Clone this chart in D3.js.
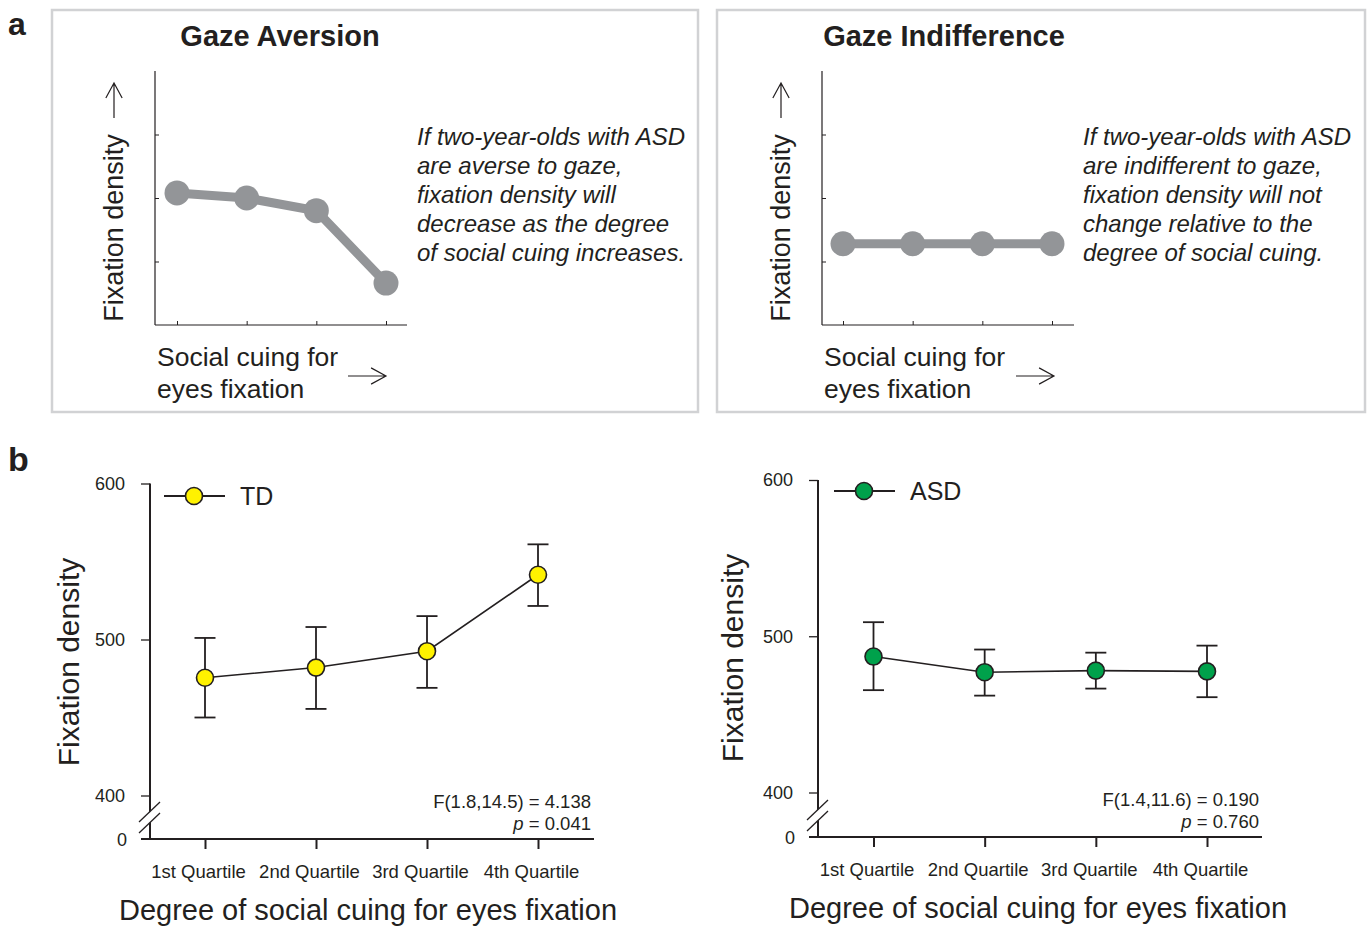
<!DOCTYPE html>
<html>
<head>
<meta charset="utf-8">
<script src="https://cdn.jsdelivr.net/npm/d3@7"></script>
<style>
  body { margin: 0; background: #fff; }
  svg text { font-family: "Liberation Sans", Arial, Helvetica, sans-serif; fill: #231f20; }
</style>
</head>
<body>
<div id="chart"></div>
<script>
// ---------------------------------------------------------------------
// data

const quartiles = ["1st Quartile", "2nd Quartile", "3rd Quartile", "4th Quartile"];
const yTicks = [400, 500, 600];

// panel b, TD
const tdMean  = [475.5, 482, 492.5, 541.5];
const tdUpper = [501, 508, 515, 561];
const tdLower = [450, 455.5, 469, 521.5];

// panel b, ASD
const asdMean  = [487, 477, 478, 477.5];
const asdUpper = [509, 491.5, 489.5, 494];
const asdLower = [465.5, 462, 466.5, 461];

// panel a, schematic predictions (arbitrary units, 0..4)
const aversion     = [2.08, 2.0, 1.8, 0.66];
const indifference = [1.28, 1.28, 1.28, 1.28];

const aversionText = ["If two-year-olds with ASD", "are averse to gaze,",
  "fixation density will", "decrease as the degree", "of social cuing increases."];
const indifferenceText = ["If two-year-olds with ASD", "are indifferent to gaze,",
  "fixation density will not", "change relative to the", "degree of social cuing."];

// ---------------------------------------------------------------------

const svg = d3.select("#chart").append("svg")
    .attr("width", 1371)
    .attr("height", 930);

const ink = "#231f20";
const fontFam = "'Liberation Sans', Arial, sans-serif";

svg.append("text").attr("x", 8).attr("y", 35)
    .style("font-size", "32px").style("font-weight", "bold").text("a");
svg.append("text").attr("x", 8).attr("y", 471)
    .style("font-size", "34px").style("font-weight", "bold").text("b");

function arrow(g, x1, y1, x2, y2) {
  // open arrow head like the → glyph
  let ang = Math.atan2(y2 - y1, x2 - x1);
  let len = 17, spread = 0.5;
  let p = d3.path();
  p.moveTo(x1, y1); p.lineTo(x2, y2);
  p.moveTo(x2 - len * Math.cos(ang - spread), y2 - len * Math.sin(ang - spread));
  p.lineTo(x2, y2);
  p.lineTo(x2 - len * Math.cos(ang + spread), y2 - len * Math.sin(ang + spread));
  g.append("path").attr("d", p.toString())
    .attr("fill", "none").attr("stroke", ink).attr("stroke-width", 1.2);
}

// schematic panel (a)
function drawConcept(cfg) {
  let g = svg.append("g");
  g.append("rect")
    .attr("x", cfg.box[0]).attr("y", cfg.box[1])
    .attr("width", cfg.box[2]).attr("height", cfg.box[3])
    .attr("fill", "none").attr("stroke", "#d1d2d4").attr("stroke-width", 2.5);

  g.append("text").attr("x", cfg.titleX).attr("y", 46)
    .attr("text-anchor", "middle")
    .style("font-size", "29px").style("font-weight", "bold")
    .text(cfg.title);

  let x = d3.scaleLinear().domain([1, 4]).range(cfg.xRange);
  let y = d3.scaleLinear().domain([0, 4]).range([325, 71]);

  let ax = cfg.axisX;
  g.append("g").attr("transform", "translate(" + ax + ",0)")
    .call(d3.axisLeft(y).tickValues([1, 2, 3]).tickSize(-4).tickFormat(""))
    .call(s => s.select(".domain").remove())
    .selectAll("line").attr("stroke", ink);
  g.append("g").attr("transform", "translate(0,325)")
    .call(d3.axisBottom(x).tickValues([1, 2, 3, 4]).tickSize(-4).tickFormat(""))
    .call(s => s.select(".domain").remove())
    .selectAll("line").attr("stroke", ink);
  g.append("line").attr("x1", ax).attr("x2", ax).attr("y1", 71).attr("y2", 325)
    .attr("stroke", ink).attr("stroke-width", 1.2);
  g.append("line").attr("x1", ax).attr("x2", cfg.axisEnd).attr("y1", 325).attr("y2", 325)
    .attr("stroke", ink).attr("stroke-width", 1.2);

  let line = d3.line().x((d, i) => x(i + 1)).y(d => y(d));
  g.append("path").attr("d", line(cfg.values))
    .attr("fill", "none").attr("stroke", "#939598").attr("stroke-width", 9);
  g.selectAll("circle.pt").data(cfg.values).enter().append("circle")
    .attr("cx", (d, i) => x(i + 1)).attr("cy", d => y(d)).attr("r", 12.5)
    .attr("fill", "#939598");

  // axis titles with arrows
  g.append("text")
    .attr("transform", "translate(" + (cfg.yLabelX) + ",228) rotate(-90)")
    .attr("text-anchor", "middle")
    .style("font-size", "27px")
    .text("Fixation density");
  arrow(g, cfg.yLabelX - 9, 118, cfg.yLabelX - 9, 83);

  g.append("text").attr("x", ax + 2).attr("y", 366)
    .style("font-size", "26.5px").text("Social cuing for");
  g.append("text").attr("x", ax + 2).attr("y", 398)
    .style("font-size", "26.5px").text("eyes fixation");
  arrow(g, cfg.arrowX, 376, cfg.arrowX + 38, 376);

  g.append("g").selectAll("text").data(cfg.text).enter().append("text")
    .attr("x", cfg.textX).attr("y", (d, i) => 145 + i * 29)
    .style("font-size", "24px").style("font-style", "italic")
    .text(d => d);
}

drawConcept({
  box: [52, 10, 646, 402], title: "Gaze Aversion", titleX: 280,
  axisX: 155, axisEnd: 407, xRange: [177, 386], values: aversion,
  yLabelX: 123, arrowX: 348, textX: 417, text: aversionText
});
drawConcept({
  box: [717, 10, 648, 402], title: "Gaze Indifference", titleX: 944,
  axisX: 822, axisEnd: 1074, xRange: [843, 1052], values: indifference,
  yLabelX: 790, arrowX: 1016, textX: 1083, text: indifferenceText
});

// result panel (b)
function drawResult(cfg) {
  let g = svg.append("g");
  let x = d3.scalePoint().domain(quartiles).range(cfg.xRange);
  let y = d3.scaleLinear().domain([400, 600]).range([cfg.y400, cfg.y600]);
  let ax = cfg.axisX, base = cfg.baseY;

  // y axis with break
  g.append("g").attr("transform", "translate(" + ax + ",0)")
    .call(d3.axisLeft(y).tickValues(yTicks).tickSize(9).tickPadding(16))
    .call(s => s.select(".domain").remove())
    .call(s => s.selectAll("line").attr("stroke", ink).attr("stroke-width", 1.3))
    .call(s => s.selectAll("text").style("font-size", "18px").attr("fill", ink)
      .style("font-family", fontFam));
  g.append("line").attr("x1", ax).attr("x2", ax).attr("y1", cfg.y600).attr("y2", base)
    .attr("stroke", ink).attr("stroke-width", 2);
  let bx0 = ax - 11, bx1 = ax + 10;
  g.append("polygon")
    .attr("points", [[bx0, base - 17], [bx1, base - 37], [bx1, base - 26], [bx0, base - 6]].join(" "))
    .attr("fill", "#fff");
  g.append("line").attr("x1", bx0).attr("y1", base - 17).attr("x2", bx1).attr("y2", base - 37)
    .attr("stroke", ink).attr("stroke-width", 1.3);
  g.append("line").attr("x1", bx0).attr("y1", base - 6).attr("x2", bx1).attr("y2", base - 26)
    .attr("stroke", ink).attr("stroke-width", 1.3);
  g.append("text").attr("x", ax - 23).attr("y", base + 7)
    .attr("text-anchor", "end").style("font-size", "18px").text("0");

  // x axis
  g.append("line").attr("x1", ax - 9).attr("x2", cfg.axisEnd).attr("y1", base).attr("y2", base)
    .attr("stroke", ink).attr("stroke-width", 2);
  g.append("g").attr("transform", "translate(0," + base + ")")
    .call(d3.axisBottom(x).tickSize(10).tickPadding(16))
    .call(s => s.select(".domain").remove())
    .call(s => s.selectAll("line").attr("stroke", ink).attr("stroke-width", 2))
    .call(s => s.selectAll("text").style("font-size", "18.5px").attr("fill", ink)
      .attr("dx", -7).style("font-family", fontFam));

  // axis titles
  g.append("text").attr("x", cfg.xTitleX).attr("y", base + 81)
    .attr("text-anchor", "middle").style("font-size", "29px")
    .text("Degree of social cuing for eyes fixation");
  g.append("text")
    .attr("transform", "translate(" + cfg.yTitleX + "," + cfg.yTitleY + ") rotate(-90)")
    .attr("text-anchor", "middle").style("font-size", "30px")
    .text("Fixation density");

  // error bars
  let cap = 10.5;
  cfg.mean.forEach((m, i) => {
    let cx = x(quartiles[i]);
    let eb = g.append("g").attr("stroke", ink).attr("stroke-width", 1.8);
    eb.append("line").attr("x1", cx).attr("x2", cx)
      .attr("y1", y(cfg.upper[i])).attr("y2", y(cfg.lower[i]));
    eb.append("line").attr("x1", cx - cap).attr("x2", cx + cap)
      .attr("y1", y(cfg.upper[i])).attr("y2", y(cfg.upper[i]));
    eb.append("line").attr("x1", cx - cap).attr("x2", cx + cap)
      .attr("y1", y(cfg.lower[i])).attr("y2", y(cfg.lower[i]));
  });

  let line = d3.line().x((d, i) => x(quartiles[i])).y(d => y(d));
  g.append("path").attr("d", line(cfg.mean))
    .attr("fill", "none").attr("stroke", ink).attr("stroke-width", 1.6);
  g.selectAll("circle.m").data(cfg.mean).enter().append("circle")
    .attr("cx", (d, i) => x(quartiles[i])).attr("cy", d => y(d)).attr("r", 8.5)
    .attr("fill", cfg.color).attr("stroke", ink).attr("stroke-width", 1.6);

  // legend
  let lg = cfg.legend;
  g.append("line").attr("x1", lg[0]).attr("x2", lg[0] + 61).attr("y1", lg[1]).attr("y2", lg[1])
    .attr("stroke", ink).attr("stroke-width", 1.8);
  g.append("circle").attr("cx", lg[0] + 30).attr("cy", lg[1]).attr("r", 8.5)
    .attr("fill", cfg.color).attr("stroke", ink).attr("stroke-width", 1.6);
  g.append("text").attr("x", lg[0] + 76).attr("y", lg[1] + 9)
    .style("font-size", "25px").text(cfg.name);

  // statistics
  g.append("text").attr("x", cfg.axisEnd - 3).attr("y", base - 31)
    .attr("text-anchor", "end").style("font-size", "18.5px").text(cfg.stat);
  let pt = g.append("text").attr("x", cfg.axisEnd - 3).attr("y", base - 9)
    .attr("text-anchor", "end").style("font-size", "18.5px");
  pt.append("tspan").style("font-style", "italic").text("p");
  pt.append("tspan").text(" = " + cfg.p);
}

drawResult({
  name: "TD", color: "#fff200", mean: tdMean, upper: tdUpper, lower: tdLower,
  axisX: 150, axisEnd: 594, baseY: 839, y600: 483.5, y400: 795.5,
  xRange: [205, 538], legend: [164, 496],
  xTitleX: 368, yTitleX: 79, yTitleY: 662,
  stat: "F(1.8,14.5) = 4.138", p: "0.041"
});
drawResult({
  name: "ASD", color: "#00a14b", mean: asdMean, upper: asdUpper, lower: asdLower,
  axisX: 818, axisEnd: 1262, baseY: 837, y600: 480, y400: 792.5,
  xRange: [873.5, 1207], legend: [834, 491],
  xTitleX: 1038, yTitleX: 743, yTitleY: 658,
  stat: "F(1.4,11.6) = 0.190", p: "0.760"
});
</script>
</body>
</html>
